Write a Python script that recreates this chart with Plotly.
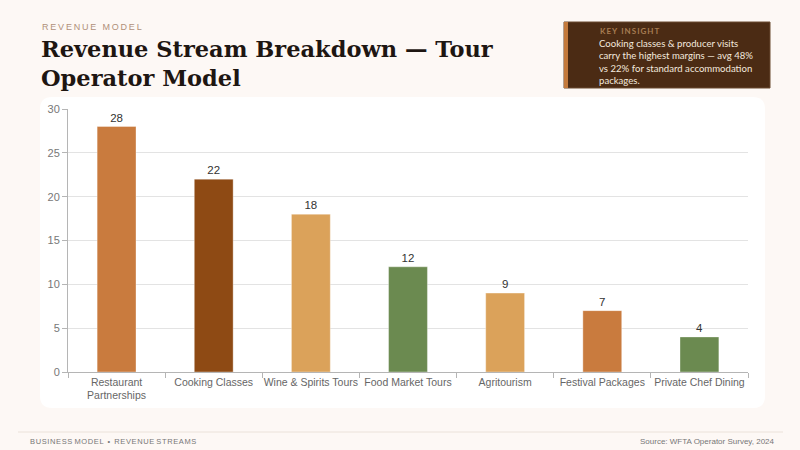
import plotly.graph_objects as go

categories = ["Restaurant<br>Partnerships", "Cooking Classes", "Wine & Spirits Tours",
              "Food Market Tours", "Agritourism", "Festival Packages", "Private Chef Dining"]
revenue_share = [28, 22, 18, 12, 9, 7, 4]
bar_colors = ["#c97b3e", "#8e4a14", "#dba25a", "#6b8a50", "#dba25a", "#c97b3e", "#6b8a50"]
y_ticks = [0, 5, 10, 15, 20, 25, 30]

# plot area in pixels (800x450 page)
L, R, T, B = 68, 748, 109, 372
W, H = R - L, B - T


def px(x):
    return (x - L) / W


def py(y):
    return (B - y) / H


def spaced(s, sep="\u2009"):
    return sep.join(s)


def rounded_rect(x0, y0, x1, y1, r):
    rx, ry = r / W, r / H
    a, b, c, d = px(x0), px(x1), py(y1), py(y0)
    return (f"M {a+rx},{c} L {b-rx},{c} Q {b},{c} {b},{c+ry} L {b},{d-ry} Q {b},{d} {b-rx},{d} "
            f"L {a+rx},{d} Q {a},{d} {a},{d-ry} L {a},{c+ry} Q {a},{c} {a+rx},{c} Z")


fig = go.Figure(go.Bar(
    x=categories,
    y=revenue_share,
    marker=dict(color=bar_colors, line=dict(color="rgba(255,255,255,0.35)", width=1)),
    width=0.4,
    text=revenue_share,
    textposition="outside",
    textfont=dict(family="Liberation Sans, Arial", size=11.5, color="#333333"),
    cliponaxis=False,
))

shapes = [
    # white chart panel
    dict(type="path", xref="paper", yref="paper", layer="below",
         path=rounded_rect(40, 97, 765, 408, 12), fillcolor="#ffffff", line=dict(width=0)),
    # insight box
    dict(type="rect", xref="paper", yref="paper", x0=px(564), x1=px(770), y0=py(88), y1=py(22),
         fillcolor="#4b2b14", line=dict(color="#6a4a30", width=1)),
    dict(type="rect", xref="paper", yref="paper", x0=px(564), x1=px(568), y0=py(88), y1=py(22),
         fillcolor="#c47a3c", line=dict(width=0)),
    # footer rule
    dict(type="line", xref="paper", yref="paper", x0=px(18), x1=px(783), y0=py(432), y1=py(432),
         line=dict(color="#ebe2da", width=1)),
]

footer_left = spaced("BUSINESS", "\u200a") + " " + spaced("MODEL", "\u200a") + "  •  " + \
    spaced("REVENUE", "\u200a") + " " + spaced("STREAMS", "\u200a")

annotations = [
    dict(text=spaced("REVENUE MODEL"), x=px(40), y=py(27), xanchor="left", yanchor="middle",
         font=dict(family="Liberation Sans, Arial", size=9, color="#b0907a")),
    dict(text="<b>Revenue Stream Breakdown — Tour<br>Operator Model</b>", x=px(39), y=py(34),
         xanchor="left", yanchor="top", align="left",
         font=dict(family="DejaVu Serif", size=22.5, color="#1e1612")),
    dict(text="<b>" + spaced("KEY INSIGHT") + "</b>", x=px(598), y=py(31), xanchor="left", yanchor="middle",
         font=dict(family="Lato, Open Sans", size=8, color="#a67c52")),
    dict(text="Cooking classes & producer visits<br>carry the highest margins — avg 48%<br>"
              "vs 22% for standard accommodation<br>packages.",
         x=px(597), y=py(36), xanchor="left", yanchor="top", align="left",
         font=dict(family="Lato, Open Sans", size=9.6, color="#f3e9de")),
    dict(text=footer_left, x=px(28), y=py(441), xanchor="left", yanchor="middle",
         font=dict(family="Liberation Sans, Arial", size=7.5, color="#777777")),
    dict(text="Source: WFTA Operator Survey, 2024", x=px(777), y=py(441), xanchor="right", yanchor="middle",
         font=dict(family="Liberation Sans, Arial", size=8, color="#777777")),
]
for a in annotations:
    a.update(xref="paper", yref="paper", showarrow=False)

fig.update_layout(
    width=800, height=450,
    margin=dict(l=L, r=800 - R, t=T, b=450 - B),
    paper_bgcolor="#fdf8f5",
    plot_bgcolor="#ffffff",
    showlegend=False,
    shapes=shapes,
    annotations=annotations,
    font=dict(family="Liberation Sans, Arial", size=11, color="#666666"),
    xaxis=dict(showline=True, linecolor="#b5b5b5", ticks="outside", tickson="boundaries",
               ticklen=5, tickcolor="#b5b5b5", showgrid=False, tickangle=0,
               tickfont=dict(size=10.5, color="#666666")),
    yaxis=dict(range=[0, 30], tickvals=y_ticks, showline=True, linecolor="#b5b5b5",
               ticks="outside", ticklen=5, tickcolor="#b5b5b5",
               gridcolor="#e3e3e3", zeroline=False,
               tickfont=dict(size=11, color="#777777")),
)

fig.write_html("out.html", config={"displayModeBar": False},
               post_script="document.body.style.margin='0';")
